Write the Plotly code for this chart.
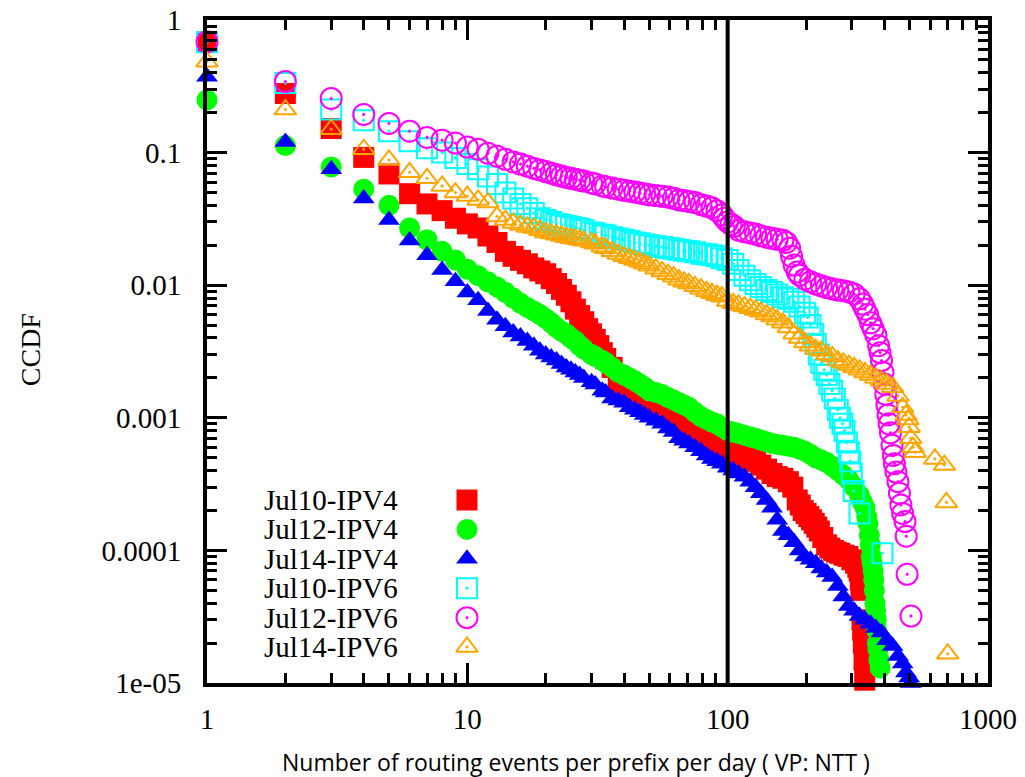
import plotly.graph_objects as go

# ---------------- data ----------------
series_names = ["Jul10-IPV4", "Jul12-IPV4", "Jul14-IPV4", "Jul10-IPV6", "Jul12-IPV6", "Jul14-IPV6"]

jul10_v4_x = [1, 2, 3, 4, 5, 6, 7, 8, 9, 10, 11, 12, 13, 14, 15, 16, 17, 18, 19,
              20, 21, 22, 23, 24, 25, 26, 27, 28, 29, 30, 31, 32, 33, 34, 36, 38, 40, 42, 44, 46, 48, 50, 53, 56,
              59, 62, 65, 68, 71, 75, 79, 83, 87, 91, 95, 100, 105, 110, 116, 122, 128, 134, 141, 148, 155, 163,
              171, 178, 185, 190, 195, 200, 205, 210, 215, 220, 225, 232, 240, 247, 255, 262, 270, 280, 290, 300,
              310, 316, 320, 323, 325, 328, 330, 332, 334, 336]
jul10_v4_y = [0.684, 0.279, 0.152, 0.092, 0.069, 0.049, 0.041, 0.0365, 0.032, 0.029, 0.027, 0.0235, 0.021, 0.018,
              0.0165, 0.0154, 0.0145, 0.0135, 0.0128,
              0.0122, 0.0112, 0.0103, 0.0093, 0.0084, 0.0075, 0.0066, 0.0059, 0.0053, 0.0047, 0.0043, 0.0039,
              0.0035, 0.0031, 0.0028, 0.0024, 0.0019, 0.0017, 0.0016, 0.0015, 0.0014, 0.00135, 0.0013, 0.00125,
              0.0012, 0.00113, 0.00106, 0.001, 0.00094, 0.00088, 0.0008, 0.00074, 0.00068, 0.00064, 0.0006,
              0.00057, 0.00055, 0.00053, 0.00052, 0.0005, 0.00049, 0.00047, 0.00044, 0.00041, 0.00038, 0.00036,
              0.00035, 0.00033, 0.0003, 0.00024, 0.00022, 0.0002, 0.00019, 0.00018, 0.00017, 0.00016, 0.00015,
              0.00014, 0.000125, 0.00011, 0.000104, 0.0001, 0.000097, 0.000095, 0.000092, 0.00009, 0.000085,
              0.00008, 0.000075, 0.00007, 0.00006, 0.00005, 0.00003, 0.000025, 0.00002, 0.000015, 0.0000105]

jul12_v4_x = [1, 2, 3, 4, 5, 6, 7, 8, 9, 10, 11, 12, 13, 14, 15, 16, 17, 18, 19,
              20, 21, 22, 23, 24, 25, 26, 27, 28, 30, 31, 33, 34, 36, 38, 40, 42, 44, 46, 48, 50, 53, 56, 59, 62,
              65, 68, 71, 75, 79, 83, 87, 91, 95, 100, 105, 110, 116, 122, 128, 134, 141, 148, 155, 163, 171, 180,
              189, 198, 208, 218, 229, 240, 252, 265, 278, 292, 306, 321, 330, 337, 342, 346, 350, 353, 356, 359,
              362, 364, 366, 368, 370, 372, 374, 376, 378, 381, 385]
jul12_v4_y = [0.25, 0.113, 0.078, 0.053, 0.040, 0.027, 0.022, 0.018, 0.0155, 0.0132, 0.0118, 0.0106, 0.0097, 0.0088,
              0.008, 0.0073, 0.0068, 0.0064, 0.006,
              0.0056, 0.0052, 0.0048, 0.0045, 0.0043, 0.004, 0.0038, 0.0035, 0.0033, 0.003, 0.0029, 0.0027, 0.0026,
              0.0024, 0.0022, 0.0021, 0.002, 0.0019, 0.0018, 0.0017, 0.0016, 0.00155, 0.0015, 0.00142, 0.00136,
              0.0013, 0.00125, 0.0012, 0.0011, 0.00102, 0.00097, 0.00093, 0.0009, 0.00085, 0.0008, 0.00078,
              0.00076, 0.00074, 0.00072, 0.0007, 0.00068, 0.00066, 0.00064, 0.00063, 0.00062, 0.00061, 0.0006,
              0.00058, 0.00056, 0.00053, 0.0005, 0.00048, 0.00046, 0.00043, 0.0004, 0.00037, 0.00034, 0.0003,
              0.00026, 0.00023, 0.00021, 0.00018, 0.00016, 0.00013, 0.00011, 0.00009, 0.00008, 0.00007, 0.00006,
              0.00005, 0.00004, 0.000035, 0.00003, 0.000025, 0.00002, 0.000018, 0.000015, 0.000013]

jul14_v4_x = [1, 2, 3, 4, 5, 6, 7, 8, 9, 10, 11, 12, 13, 14, 15, 16, 17, 18, 19,
              20, 21, 22, 23, 24, 25, 26, 27, 28, 30, 31, 33, 34, 36, 38, 40, 42, 44, 46, 48, 50, 53, 56, 59, 62,
              65, 68, 71, 75, 79, 83, 87, 91, 95, 100, 105, 110, 116, 122, 128, 134, 141, 148, 155, 163, 171, 180,
              189, 198, 208, 218, 229, 240, 252, 265, 278, 292, 306, 321, 337, 354, 371, 390, 409, 430, 451, 470,
              484, 498, 505]
jul14_v4_y = [0.374, 0.12, 0.075, 0.045, 0.031, 0.0217, 0.0168, 0.013, 0.0107, 0.0088, 0.0077, 0.0064, 0.0055,
              0.0049, 0.0044, 0.0041, 0.0038, 0.0035, 0.0032,
              0.003, 0.00285, 0.0027, 0.00255, 0.0024, 0.0023, 0.0022, 0.0021, 0.002, 0.00185, 0.00178, 0.0016,
              0.00155, 0.0014, 0.00135, 0.0013, 0.0012, 0.00115, 0.0011, 0.00105, 0.001, 0.00095, 0.0009, 0.00083,
              0.00078, 0.0007, 0.00067, 0.00064, 0.0006, 0.00056, 0.00052, 0.00049, 0.00047, 0.00045, 0.00042,
              0.0004, 0.00038, 0.00036, 0.00033, 0.0003, 0.00027, 0.00024, 0.00021, 0.00017, 0.00014, 0.00013,
              0.000115, 0.0001, 0.00009, 0.000085, 0.00008, 0.000073, 0.000068, 0.000063, 0.000054, 0.000045,
              0.000038, 0.000035, 0.000032, 0.00003, 0.000028, 0.000026, 0.000024, 0.000021, 0.000019, 0.000016,
              0.000014, 0.000012, 0.000011, 0.00001]

jul10_v6_x = [1, 2, 3, 4, 5, 6, 7, 8, 9, 10, 11, 12, 13, 14, 15, 16, 17, 18, 19,
              20, 21, 22, 23, 24, 25, 26, 27, 28, 30, 31, 33, 34, 36, 38, 40, 42, 44, 46, 48, 50, 53, 56, 59, 62,
              65, 68, 71, 75, 79, 83, 87, 91, 95, 100, 105, 110, 116, 122, 128, 134, 141, 148, 155, 163, 171, 180,
              189, 198, 203, 208, 213, 218, 224, 229, 235, 240, 246, 252, 258, 265, 270, 276, 281, 287, 292, 296,
              300, 305, 321, 393]
jul10_v6_y = [0.68, 0.335, 0.211, 0.175, 0.145, 0.122, 0.108, 0.100, 0.091, 0.082, 0.075, 0.066, 0.058, 0.050,
              0.045, 0.041, 0.038, 0.035, 0.032,
              0.031, 0.030, 0.029, 0.0285, 0.028, 0.0275, 0.027, 0.0267, 0.026, 0.025, 0.0246, 0.024, 0.0237, 0.023,
              0.0225, 0.022, 0.0215, 0.021, 0.0207, 0.0203, 0.020, 0.0197, 0.0194, 0.0191, 0.0188, 0.0185, 0.0182,
              0.018, 0.0177, 0.0173, 0.0171, 0.0168, 0.0165, 0.016, 0.0155, 0.0145, 0.013, 0.0118, 0.0109, 0.0102,
              0.0097, 0.0092, 0.0089, 0.0085, 0.0081, 0.0079, 0.0075, 0.0069, 0.0062, 0.0057, 0.005, 0.0043, 0.0036,
              0.003, 0.0026, 0.0023, 0.0021, 0.0018, 0.0016, 0.0014, 0.00115, 0.001, 0.0009, 0.0008, 0.00065,
              0.00055, 0.00047, 0.00038, 0.00028, 0.00019, 0.000095]

jul12_v6_x = [1, 2, 3, 4, 5, 6, 7, 8, 9, 10, 11, 12, 13, 14, 15, 16, 17, 18, 19,
              20, 21, 22, 23, 24, 25, 26, 27, 28, 30, 31, 33, 34, 36, 38, 40, 42, 44, 46, 48, 50, 53, 56, 59, 62,
              65, 68, 71, 75, 79, 83, 87, 91, 95, 97, 100, 103, 106, 110, 116, 122, 128, 134, 141, 148, 155, 163,
              168, 173, 176, 180, 185, 189, 198, 208, 218, 229, 240, 252, 265, 278, 292, 306, 321, 330, 337, 345,
              354, 362, 371, 380, 385, 390, 395, 400, 405, 409, 413, 417, 422, 428, 433, 437, 443, 451, 457, 463,
              470, 480, 485, 489, 506]
jul12_v6_y = [0.684, 0.343, 0.256, 0.194, 0.166, 0.145, 0.130, 0.124, 0.118, 0.110, 0.106, 0.099, 0.094, 0.089,
              0.085, 0.082, 0.079, 0.076, 0.074,
              0.072, 0.070, 0.068, 0.0665, 0.065, 0.064, 0.063, 0.062, 0.061, 0.059, 0.058, 0.056, 0.0553, 0.054,
              0.053, 0.052, 0.0512, 0.0504, 0.0496, 0.0488, 0.048, 0.0474, 0.0468, 0.0462, 0.0452, 0.044, 0.0435,
              0.0428, 0.042, 0.0405, 0.0395, 0.0383, 0.0365, 0.034, 0.032, 0.030, 0.0288, 0.0278, 0.026, 0.0253,
              0.0248, 0.0243, 0.0236, 0.023, 0.0226, 0.0222, 0.0218, 0.021, 0.019, 0.0165, 0.0142, 0.0126, 0.0119,
              0.0111, 0.0106, 0.0102, 0.0099, 0.0096, 0.0094, 0.0092, 0.0091, 0.0089, 0.0086, 0.0079, 0.0072,
              0.0066, 0.006, 0.0052, 0.0047, 0.0042, 0.0035, 0.0031, 0.0027, 0.0022, 0.0018, 0.0015, 0.00125,
              0.00105, 0.0009, 0.00077, 0.00062, 0.00052, 0.00045, 0.00039, 0.00033, 0.00027, 0.00022, 0.00019,
              0.000165, 0.000128, 0.000066, 0.000032]

jul14_v6_x = [1, 2, 3, 4, 5, 6, 7, 8, 9, 10, 11, 12, 13, 14, 15, 16, 17, 18, 19,
              20, 21, 22, 23, 24, 25, 26, 27, 28, 30, 31, 33, 34, 36, 38, 40, 42, 44, 46, 48, 50, 53, 56, 59, 62,
              65, 68, 71, 75, 79, 83, 87, 91, 95, 100, 105, 110, 116, 122, 128, 134, 141, 148, 155, 163, 171, 180,
              189, 198, 208, 218, 229, 240, 252, 265, 278, 292, 306, 321, 337, 354, 371, 390, 409, 430, 451, 470,
              484, 492, 498, 505, 515, 525, 625, 680, 692, 700]
jul14_v6_y = [0.484, 0.211, 0.15, 0.106, 0.088, 0.071, 0.064, 0.056, 0.050, 0.047, 0.044, 0.042, 0.033, 0.031,
              0.0295, 0.0285, 0.0275, 0.027, 0.026,
              0.025, 0.0245, 0.024, 0.0235, 0.023, 0.0226, 0.0223, 0.022, 0.0216, 0.021, 0.0205, 0.0195, 0.019,
              0.018, 0.0172, 0.0165, 0.016, 0.0155, 0.015, 0.0145, 0.014, 0.0133, 0.0127, 0.0121, 0.0116, 0.011,
              0.0106, 0.0103, 0.0098, 0.0094, 0.009, 0.0087, 0.0084, 0.0082, 0.0076, 0.0073, 0.0071, 0.0069, 0.0067,
              0.0065, 0.0063, 0.006, 0.0058, 0.0055, 0.0052, 0.0048, 0.0043, 0.004, 0.0037, 0.0035, 0.0033, 0.0032,
              0.003, 0.0029, 0.0027, 0.0026, 0.0025, 0.0024, 0.0023, 0.0022, 0.0021, 0.002, 0.0019, 0.0018, 0.0017,
              0.00146, 0.0012, 0.00105, 0.00097, 0.00085, 0.0007, 0.0006, 0.00055, 0.00049, 0.00044, 0.00023,
              0.0000166]

x_ticks = [1, 10, 100, 1000]
x_tick_labels = ["1", "10", "100", "1000"]
y_ticks = [1, 0.1, 0.01, 0.001, 0.0001, 0.00001]
y_tick_labels = ["1", "0.1", "0.01", "0.001", "0.0001", "1e-05"]
threshold_x = 100

x_title = "Number of routing events per prefix per day ( VP: NTT )"
y_title = "CCDF"

# ---------------- styles ----------------
styles = [
    dict(symbol="square", color="#ff0000", size=21, open=False),
    dict(symbol="circle", color="#00ff00", size=21, open=False),
    dict(symbol="triangle-up", color="#0000ff", size=19, open=False),
    dict(symbol="square-open-dot", color="#00ffff", size=20, open=True),
    dict(symbol="circle-open-dot", color="#ff00ff", size=21, open=True),
    dict(symbol="triangle-up-open-dot", color="#ffa500", size=19, open=True),
]
xs = [jul10_v4_x, jul12_v4_x, jul14_v4_x, jul10_v6_x, jul12_v6_x, jul14_v6_x]
ys = [jul10_v4_y, jul12_v4_y, jul14_v4_y, jul10_v6_y, jul12_v6_y, jul14_v6_y]

serif = "Liberation Serif, Times New Roman, serif"


def make_marker(st):
    m = dict(symbol=st["symbol"], color=st["color"], size=st["size"])
    m["line"] = dict(color=st["color"], width=2) if st["open"] else dict(width=0)
    return m


fig = go.Figure()
for name, x, y, st in zip(series_names, xs, ys, styles):
    fig.add_trace(go.Scatter(x=x, y=y, mode="markers", name=name, marker=make_marker(st),
                             cliponaxis=False, showlegend=False))

# custom key (text left, symbol right) on an overlay axis
key_rows = [0.276, 0.2317, 0.1873, 0.143, 0.0986, 0.0543]
key_marker_x = 0.3329
key_text_x = 0.2471
for name, st, ky in zip(series_names, styles, key_rows):
    fig.add_trace(go.Scatter(x=[key_marker_x], y=[ky], mode="markers", marker=make_marker(st),
                             xaxis="x2", yaxis="y2", showlegend=False, cliponaxis=False,
                             hoverinfo="skip"))
    fig.add_annotation(x=key_text_x, y=ky, xref="paper", yref="paper", text=name,
                       showarrow=False, xanchor="right", yanchor="middle",
                       font=dict(family=serif, size=29, color="black"))

minor_x = [m * 10 ** e for e in range(0, 3) for m in range(2, 10)]
minor_y = [m * 10.0 ** e for e in range(-5, 0) for m in range(2, 10)]

axis_common = dict(
    type="log", showgrid=False, zeroline=False, showline=True, linecolor="black", linewidth=4,
    mirror="ticks", ticks="inside", ticklen=20, tickwidth=3, tickcolor="black", automargin=False,
    tickfont=dict(family=serif, size=29, color="black"),
)

fig.update_layout(
    width=1025, height=777,
    margin=dict(l=207, r=37, t=20, b=94),
    paper_bgcolor="white", plot_bgcolor="white",
    xaxis=dict(range=[0, 3], tickmode="array", tickvals=x_ticks, ticktext=x_tick_labels,
               ticklabelstandoff=7,
               minor=dict(tickmode="array", tickvals=minor_x, ticks="inside", ticklen=10,
                          tickwidth=3, tickcolor="black", showgrid=False),
               **axis_common),
    yaxis=dict(range=[-5, 0], tickmode="array", tickvals=y_ticks, ticktext=y_tick_labels,
               ticklabelstandoff=16,
               minor=dict(tickmode="array", tickvals=minor_y, ticks="inside", ticklen=10,
                          tickwidth=3, tickcolor="black", showgrid=False),
               **axis_common),
    xaxis2=dict(overlaying="x", range=[0, 1], visible=False, fixedrange=True),
    yaxis2=dict(overlaying="y", range=[0, 1], visible=False, fixedrange=True),
    showlegend=False,
)

fig.add_shape(type="line", xref="x", yref="paper", x0=threshold_x, x1=threshold_x, y0=0, y1=1,
              line=dict(color="black", width=4), layer="above")

fig.add_annotation(x=-0.2266, y=0.502, xref="paper", yref="paper", text=y_title, textangle=-90,
                   showarrow=False, xanchor="center", yanchor="middle",
                   font=dict(family=serif, size=28, color="black"))
fig.add_annotation(x=0.4725, y=-0.119, xref="paper", yref="paper", text=x_title,
                   showarrow=False, xanchor="center", yanchor="middle",
                   font=dict(family="Open Sans", size=23, color="black"))

fig.write_html("out.html")
